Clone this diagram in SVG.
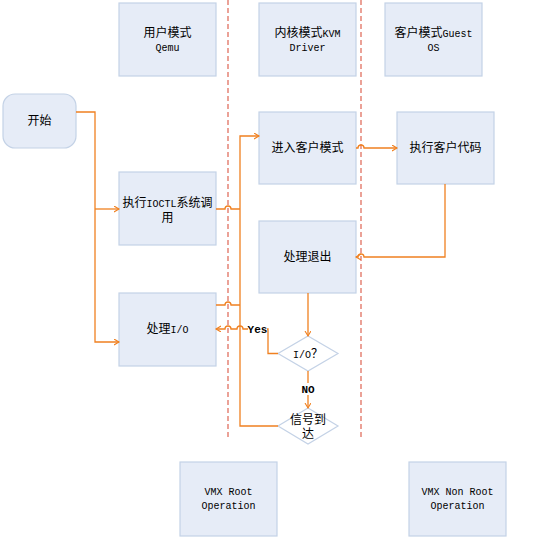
<svg xmlns="http://www.w3.org/2000/svg" width="540" height="544" viewBox="0 0 540 544">
<defs>
<style>
.box{fill:#e6ecf7;stroke:#c4d2e6;stroke-width:1.2}
.dia{fill:#ffffff;stroke:#c4d2e6;stroke-width:1.2}
.ln{fill:none;stroke:#f08020;stroke-width:1.3}
.dash{stroke:#e07060;stroke-width:1.3;stroke-dasharray:5,3}
.t{font-family:'Liberation Mono','Noto Sans CJK SC',monospace;font-size:12px;fill:#000;text-anchor:middle}
.l{font-size:10px}
.b{font-family:'Liberation Mono','DejaVu Sans Mono',monospace;font-size:11px;font-weight:bold;fill:#000;text-anchor:middle}
</style>
<marker id="a" markerWidth="8" markerHeight="8" refX="5" refY="3" orient="auto" markerUnits="userSpaceOnUse">
<path d="M0,0 L5,3 L0,6" fill="none" stroke="#f08020" stroke-width="1.1"/>
</marker>
</defs>
<rect width="540" height="544" fill="#ffffff"/>
<g id="lanes">
<line class="dash" x1="228" y1="0" x2="228" y2="438"/>
<line class="dash" x1="361" y1="0" x2="361" y2="438"/>
</g>
<g id="n_user"><rect class="box" x="119" y="3" width="97" height="73"/><text class="t" x="167.5" y="37">用户模式</text><text class="t l" x="167.5" y="51">Qemu</text></g>
<g id="n_kernel"><rect class="box" x="259" y="3" width="97" height="73"/><text class="t" x="307.5" y="37">内核模式<tspan class="l">KVM</tspan></text><text class="t l" x="307.5" y="51">Driver</text></g>
<g id="n_guest"><rect class="box" x="385" y="3" width="97" height="73"/><text class="t" x="433.5" y="37">客户模式<tspan class="l">Guest</tspan></text><text class="t l" x="433.5" y="51">OS</text></g>
<g id="n_start"><rect class="box" x="3" y="94" width="73" height="54" rx="12"/><text class="t" x="39.5" y="125">开始</text></g>
<g id="n_enter"><rect class="box" x="259" y="112" width="97" height="72"/><text class="t" x="307.5" y="152">进入客户模式</text></g>
<g id="n_exec"><rect class="box" x="397" y="112" width="97" height="72"/><text class="t" x="445.5" y="152">执行客户代码</text></g>
<g id="n_ioctl"><rect class="box" x="119" y="172" width="97" height="73"/><text class="t" x="167.5" y="207">执行<tspan class="l">IOCTL</tspan>系统调</text><text class="t" x="167.5" y="222">用</text></g>
<g id="n_exit"><rect class="box" x="259" y="221" width="97" height="72"/><text class="t" x="307.5" y="261">处理退出</text></g>
<g id="n_io"><rect class="box" x="119" y="293" width="97" height="73"/><text class="t" x="167.5" y="333">处理<tspan class="l">I/O</tspan></text></g>
<g id="n_isio"><polygon class="dia" points="308,336 338,353.5 308,371 278,353.5"/><text class="t" x="308" y="358"><tspan class="l">I/O</tspan>？</text></g>
<g id="n_sig"><polygon class="dia" points="308,408 338,426 308,444 278,426"/><text class="t" x="308" y="424">信号到</text><text class="t" x="308" y="438">达</text></g>
<g id="n_vmxroot"><rect class="box" x="180" y="462" width="97" height="74"/><text class="t l" x="228.5" y="495">VMX Root</text><text class="t l" x="228.5" y="509">Operation</text></g>
<g id="n_vmxnon"><rect class="box" x="409" y="462" width="97" height="74"/><text class="t l" x="457.5" y="495">VMX Non Root</text><text class="t l" x="457.5" y="509">Operation</text></g>
<g id="connectors">
<path class="ln" d="M76,112 H95 V342 H119" marker-end="url(#a)"/>
<path class="ln" d="M95,209 H119" marker-end="url(#a)"/>
<path class="ln" d="M216,209 H225 A3,3 0 0 1 231,209 H240"/>
<path class="ln" d="M216,305 H225 A3,3 0 0 1 231,305 H240"/>
<path class="ln" d="M278,426 H240 V136 H259" marker-end="url(#a)"/>
<path class="ln" d="M356,148 H358 A3,3 0 0 1 364,148 H397" marker-end="url(#a)"/>
<path class="ln" d="M445,184 V257 H364 A3,3 0 0 0 358,257 H356" marker-end="url(#a)"/>
<path class="ln" d="M308,293 V336" marker-end="url(#a)"/>
<path class="ln" d="M278,353.5 H268 V329 H243 A3,3 0 0 0 237,329 H231 A3,3 0 0 0 225,329 H216" marker-end="url(#a)"/>
<path class="ln" d="M308,371 V408" marker-end="url(#a)"/>
<rect x="248" y="323" width="19" height="12" fill="#ffffff"/>
<text class="b" x="257.5" y="333">Yes</text>
<rect x="299" y="383" width="18" height="12" fill="#ffffff"/>
<text class="b" x="308" y="393">NO</text>
</g>
</svg>
